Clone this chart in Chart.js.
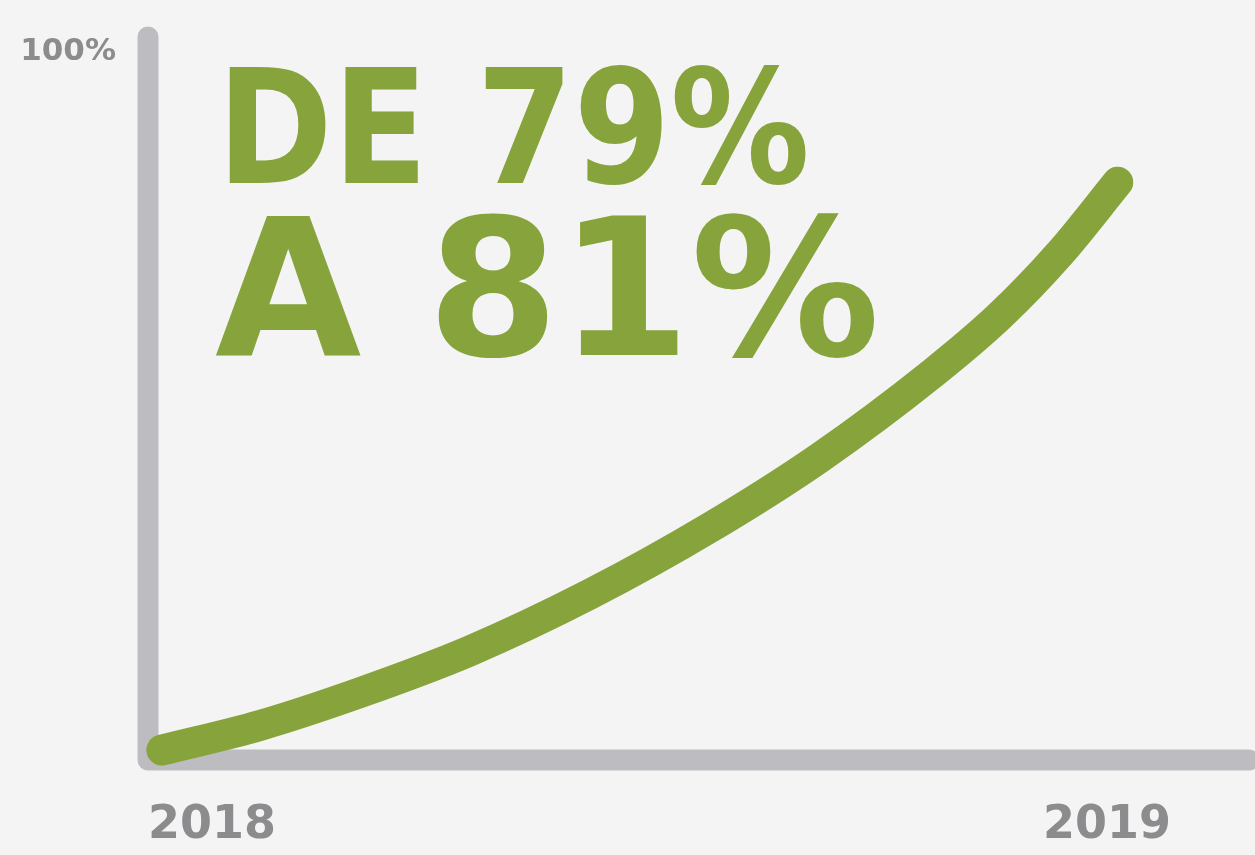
<!DOCTYPE html>
<html>
<head>
<meta charset="utf-8">
<script src="https://cdn.jsdelivr.net/npm/chart.js@4"></script>
<style>
  html, body { margin: 0; padding: 0; background: #f4f4f4; }
  #wrap { width: 1255px; height: 855px; position: relative; }
</style>
</head>
<body>
<div id="wrap"><canvas id="c" width="1255" height="855"></canvas></div>
<script>
// ---- data ----
const curveX = [2017.944, 2018.054, 2018.165, 2018.288, 2018.422, 2018.556, 2018.679, 2018.806, 2018.880, 2018.947, 2019.012];
const curveY = [1.4, 4.9, 9.5, 15.4, 23.4, 32.8, 42.7, 54.7, 62.7, 71.5, 81.6];
const xTickValues = [2018, 2019];
const xTickLabels = ['2018', '2019'];
const yTickValues = [100];
const yTickLabels = ['100%'];
const headlineLines = ['DE 79%', 'A 81%'];

const GREEN = '#87a33b';
const AXIS_GRAY = '#bdbdc1';
const TEXT_GRAY = '#8c8c8e';
const FONT = '"DejaVu Sans", Lato, sans-serif';

const points = curveX.map((x, i) => ({ x: x, y: curveY[i] }));

const axesAndHeadline = {
  id: 'axesAndHeadline',
  beforeDatasetsDraw(chart) {
    const { ctx, chartArea: a } = chart;
    ctx.save();
    ctx.strokeStyle = AXIS_GRAY;
    ctx.lineWidth = 21;
    ctx.lineCap = 'round';
    ctx.lineJoin = 'round';
    ctx.beginPath();
    ctx.moveTo(a.left, a.top - 15);
    ctx.lineTo(a.left, a.bottom);
    ctx.lineTo(a.right + 4, a.bottom);
    ctx.stroke();
    ctx.restore();

    // headline
    const specs = [
      { text: headlineLines[0], size: 158, left: 217, base: 183, width: 593 },
      { text: headlineLines[1], size: 191, left: 215, base: 355, width: 665 }
    ];
    ctx.save();
    ctx.fillStyle = GREEN;
    ctx.textBaseline = 'alphabetic';
    ctx.textAlign = 'left';
    specs.forEach(s => {
      ctx.font = 'bold ' + s.size + 'px ' + FONT;
      const w = ctx.measureText(s.text).width;
      ctx.save();
      ctx.translate(s.left, s.base);
      ctx.scale(s.width / w, 1);
      ctx.fillText(s.text, 0, 0);
      ctx.restore();
    });
    ctx.restore();
  }
};

new Chart(document.getElementById('c'), {
  type: 'line',
  data: {
    datasets: [{
      data: points,
      borderColor: GREEN,
      borderWidth: 31,
      borderCapStyle: 'round',
      borderJoinStyle: 'round',
      cubicInterpolationMode: 'monotone',
      pointRadius: 0,
      fill: false
    }]
  },
  options: {
    responsive: false,
    animation: false,
    devicePixelRatio: 1,
    clip: false,
    layout: { padding: { left: 0, right: 10, top: 52, bottom: 0 } },
    plugins: { legend: { display: false }, tooltip: { enabled: false } },
    scales: {
      x: {
        type: 'linear',
        min: 2017.9285,
        max: 2019.1542,
        afterBuildTicks: s => { s.ticks = xTickValues.map(v => ({ value: v })); },
        afterFit: s => { s.height = 95; },
        grid: { display: false, drawTicks: false },
        border: { display: false },
        ticks: {
          autoSkip: false,
          maxRotation: 0,
          padding: 38,
          color: TEXT_GRAY,
          font: { family: FONT, size: 46, weight: 'bold' },
          callback: (v) => { const i = xTickValues.indexOf(v); return i >= 0 ? xTickLabels[i] : ''; }
        }
      },
      y: {
        min: 0,
        max: 100,
        afterBuildTicks: s => { s.ticks = yTickValues.map(v => ({ value: v })); },
        afterFit: s => { s.width = 148; },
        grid: { display: false, drawTicks: false },
        border: { display: false },
        ticks: {
          padding: 32,
          color: TEXT_GRAY,
          font: { family: FONT, size: 31, weight: 'bold' },
          callback: (v) => { const i = yTickValues.indexOf(v); return i >= 0 ? yTickLabels[i] : ''; }
        }
      }
    }
  },
  plugins: [axesAndHeadline]
});
</script>
</body>
</html>
